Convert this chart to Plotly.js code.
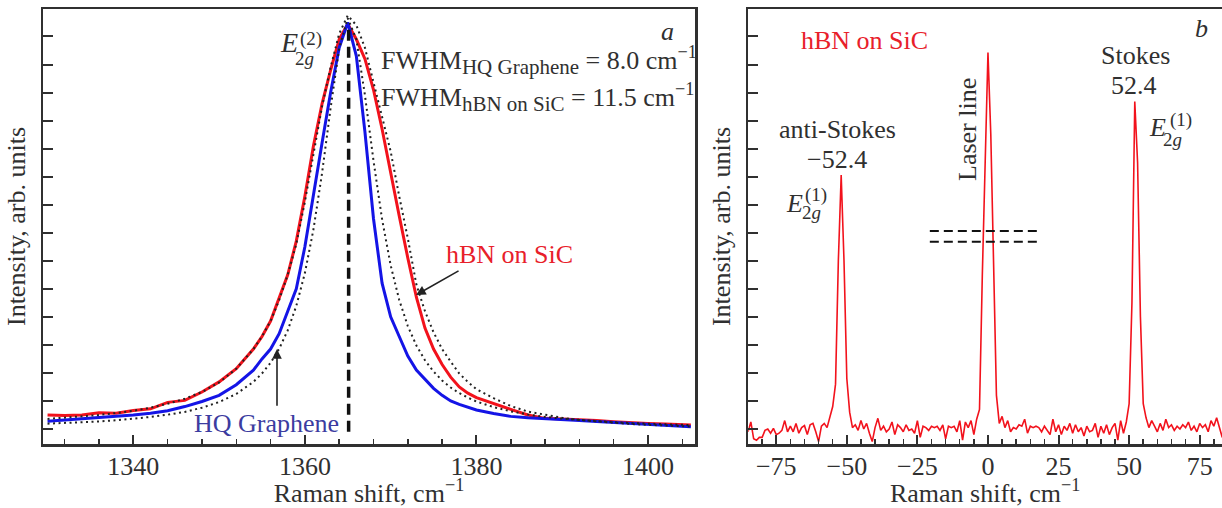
<!DOCTYPE html>
<html>
<head>
<meta charset="utf-8">
<script src="https://cdn.plot.ly/plotly-3.0.1.min.js"></script>
<style>html,body{margin:0;padding:0;background:#fff;}#chart{width:1222px;height:508px;}</style>
</head>
<body>
<div id="chart"></div>
<script>
// ---------- panel a : E2g(2) line ----------
const shiftA = [1330,1332,1334,1336,1338,1340,1342,1344,1346,1348,1350,1352,1354,
  1355,1356,1357,1358,1359,1360,1361,1362,1363,1364,1365,1366,1367,1368,1369,1370,
  1371,1372,1373,1374,1375,1376,1377,1378,1379,1380,
  1382,1384,1386,1388,1390,1392,1394,1396,1398,1400,1402,1404,1405];
const hbnOnSiC = [0.50,0.48,0.50,0.58,0.56,0.66,0.72,0.95,1.02,1.32,1.68,2.15,2.85,
  3.30,3.85,4.70,5.50,6.70,8.30,10.1,11.6,12.8,13.9,14.45,13.9,13.2,12.1,10.7,9.1,
  7.6,6.1,4.7,3.6,2.85,2.3,1.85,1.5,1.28,1.12,
  0.9,0.7,0.5,0.38,0.36,0.34,0.30,0.26,0.22,0.20,0.18,0.15,0.14];
const hqGraphene = [0.28,0.32,0.36,0.40,0.45,0.50,0.56,0.65,0.80,0.98,1.2,1.58,2.1,
  2.5,2.85,3.4,4.2,5.0,6.5,8.4,10.2,12.0,13.6,14.5,13.3,10.6,7.5,5.2,4.0,
  3.3,2.6,2.1,1.78,1.45,1.2,1.0,0.88,0.77,0.68,
  0.55,0.45,0.40,0.36,0.32,0.30,0.27,0.24,0.20,0.17,0.14,0.11,0.08];
const fitHbn = [0.36,0.40,0.45,0.50,0.57,0.65,0.76,0.90,1.08,1.32,1.66,2.15,2.85,
  3.3,3.85,4.6,5.5,6.6,8.1,9.8,11.5,12.9,14.1,14.75,14.4,13.6,12.4,11.2,9.9,
  8.3,6.8,5.15,4.2,3.45,2.85,2.4,1.98,1.68,1.42,
  1.1,0.82,0.62,0.50,0.40,0.32,0.27,0.22,0.18,0.15,0.12,0.10,0.09];
const fitHq = [0.19,0.21,0.24,0.27,0.31,0.36,0.43,0.51,0.61,0.76,0.96,1.25,1.68,
  1.98,2.36,2.86,3.52,4.39,5.56,7.12,9.12,11.45,13.57,14.65,13.9,11.91,9.57,7.48,5.84,
  4.6,3.67,2.98,2.45,2.05,1.73,1.48,1.28,1.12,0.98,
  0.78,0.63,0.52,0.43,0.37,0.32,0.27,0.24,0.21,0.19,0.17,0.15,0.14];
const peakMarkerX = [1365.1, 1365.1];
const peakMarkerY = [-0.1, 14.3];

// ---------- panel b : low-frequency spectrum ----------
const shiftB = [-85,-84,-83,-82,-81,-80,-79,-78,-77,-76,
  -75,-74,-73,-72,-71,-70,-69,-68,-67,-66,
  -65,-64,-63,-62,-61,-60,-59,-58,-57,-56,
  -55,-54,-53,-52,-51,-50,-49,-48,-47,-46,
  -45,-44,-43,-42,-41,-40,-39,-38,-37,-36,
  -35,-34,-33,-32,-31,-30,-29,-28,-27,-26,
  -25,-24,-23,-22,-21,-20,-19,-18,-17,-16,
  -15,-14,-13,-12,-11,-10,-9,-8,-7,-6,
  -5,-4,-3,-2,-1,0,1,2,3,4,
  5,6,7,8,9,10,11,12,13,14,
  15,16,17,18,19,20,21,22,23,24,
  25,26,27,28,29,30,31,32,33,34,
  35,36,37,38,39,40,41,42,43,44,
  45,46,47,48,49,50,51,52,53,54,
  55,56,57,58,59,60,61,62,63,64,
  65,66,67,68,69,70,71,72,73,74,
  75,76,77,78,79,80,81,82,83];
const intensityB = [-0.1,0.25,-0.35,-0.4,-0.3,-0.3,-0.05,0.0,-0.15,0.02,
  -0.2,-0.15,-0.05,0.3,-0.1,0.1,-0.1,0.2,-0.15,0.05,
  0.12,-0.2,0.15,0.2,-0.1,-0.45,0.1,0.2,0.05,0.45,
  0.8,1.6,6.0,9.06,6.0,1.8,0.6,0.05,0.15,-0.05,
  0.3,0.0,0.2,-0.15,-0.45,0.05,0.38,-0.05,0.1,-0.1,
  0.0,0.25,-0.2,0.15,0.05,-0.1,0.15,-0.05,0.0,-0.15,
  0.3,-0.3,0.1,0.05,-0.05,0.1,0.05,0.1,-0.05,0.15,
  -0.35,0.1,0.05,0.1,-0.1,0.3,-0.4,0.25,0.05,0.3,
  -0.2,0.35,0.7,5.5,10.0,13.43,10.5,5.8,1.2,0.2,
  0.45,0.05,0.3,-0.1,0.05,0.0,0.15,0.1,0.35,-0.15,
  0.1,0.05,0.1,0.05,-0.1,0.1,-0.05,-0.2,0.35,-0.1,
  0.15,-0.2,0.1,-0.05,0.2,-0.15,0.15,-0.1,0.05,-0.25,
  0.1,-0.1,-0.05,0.2,-0.3,0.1,-0.15,0.15,-0.2,0.05,
  0.2,-0.4,0.3,-0.15,0.25,0.9,4.5,11.68,9.5,4.0,
  0.9,0.4,0.05,0.3,0.1,-0.1,0.2,-0.05,0.35,0.05,
  0.15,-0.05,0.1,0.0,0.15,0.05,0.25,-0.05,0.1,-0.1,
  0.2,0.05,0.15,-0.1,0.3,0.1,0.4,0.05,-0.3];
const breakX = [-20.6, 18.4];
const breakY = [7.06, 6.68];

// ---------- styles ----------
const FONT = 'Liberation Serif, Times New Roman, serif';
const INK = '#303030';
const RED = '#f2121c';
const BLUE = '#1414e6';

const traces = [
  {x: shiftA, y: hbnOnSiC, mode: 'lines', line: {color: RED, width: 3}, xaxis: 'x', yaxis: 'y'},
  {x: shiftA, y: hqGraphene, mode: 'lines', line: {color: BLUE, width: 3}, xaxis: 'x', yaxis: 'y'},
  {x: shiftA, y: fitHbn, mode: 'lines', line: {color: '#222', width: 2, dash: '2px,3.5px'}, xaxis: 'x', yaxis: 'y'},
  {x: shiftA, y: fitHq, mode: 'lines', line: {color: '#222', width: 2, dash: '2px,3.5px'}, xaxis: 'x', yaxis: 'y'},
  {x: peakMarkerX, y: peakMarkerY, mode: 'lines', line: {color: '#111', width: 3.5, dash: '11px,6px'}, xaxis: 'x', yaxis: 'y'},
  {x: shiftB, y: intensityB, mode: 'lines', line: {color: RED, width: 1.6}, xaxis: 'x2', yaxis: 'y2'},
  {x: breakX, y: [breakY[0], breakY[0]], mode: 'lines', line: {color: '#111', width: 2, dash: '9px,5px'}, xaxis: 'x2', yaxis: 'y2'},
  {x: breakX, y: [breakY[1], breakY[1]], mode: 'lines', line: {color: '#111', width: 2, dash: '9px,5px'}, xaxis: 'x2', yaxis: 'y2'}
];

const tickfont = {family: FONT, size: 26, color: INK};
const titlefont = {family: FONT, size: 26, color: INK};

function xax(domain, range, dtick, minor, mirror) {
  return {domain: domain, range: range, dtick: dtick, tick0: 0, ticks: 'inside', ticklen: 9, tickwidth: 2,
    tickcolor: INK, minor: {dtick: minor, ticks: 'inside', ticklen: 5, tickwidth: 1.5, tickcolor: INK},
    showline: true, linewidth: 2.5, linecolor: INK, mirror: mirror, showgrid: false, zeroline: false,
    tickfont: tickfont, ticklabelstandoff: -3,
    title: {text: 'Raman shift, cm<sup>−1</sup>', font: titlefont, standoff: 6}};
}
function yax(anchor, mirror) {
  return {domain: [0, 1], range: [-0.535, 14.98], dtick: 1, tick0: 0, ticks: 'inside', ticklen: 10, tickwidth: 2,
    tickcolor: INK, showticklabels: false, showline: true, linewidth: 2.5, linecolor: INK, mirror: mirror,
    showgrid: false, zeroline: false, anchor: anchor,
    title: {text: 'Intensity, arb. units', font: titlefont, standoff: 8}};
}

function label(text, x, y, ref, extra) {
  const a = {text: text, x: x, y: y, xref: ref[0], yref: ref[1], showarrow: false,
    xanchor: 'center', yanchor: 'middle', font: {family: FONT, size: 26, color: INK}};
  return Object.assign(a, extra || {});
}
const A = ['x', 'y'], B = ['x2', 'y2'];
const SUB = '<span style="font-size:21px">';

const annotations = [
  // panel a
  label('<i>E</i>', 1358.15, 13.77, A, {font: {family: FONT, size: 28, color: INK}}),
  label('(2)', 1360.7, 13.91, A, {font: {family: FONT, size: 19, color: INK}}),
  label('2<i>g</i>', 1359.9, 13.2, A, {font: {family: FONT, size: 19, color: INK}}),
  label('FWHM<sub>' + SUB + 'HQ Graphene</span></sub> = 8.0 cm<sup>−1</sup>', 1368.65, 13.15, A, {xanchor: 'left'}),
  label('FWHM<sub>' + SUB + 'hBN on SiC</span></sub> = 11.5 cm<sup>−1</sup>', 1368.65, 11.84, A, {xanchor: 'left'}),
  label('<i>a</i>', 1402.3, 14.16, A),
  label('hBN on SiC', 1383.8, 6.21, A, {font: {family: FONT, size: 26, color: '#e8202a'}}),
  {x: 1372.96, y: 4.78, xref: 'x', yref: 'y', ax: 1378.09, ay: 5.67, axref: 'x', ayref: 'y',
    showarrow: true, arrowhead: 2, arrowsize: 1.2, arrowwidth: 1.6, arrowcolor: '#222', text: ''},
  label('HQ Graphene', 1355.56, 0.21, A, {font: {family: FONT, size: 26, color: '#3c3ca0'}}),
  {x: 1356.75, y: 2.85, xref: 'x', yref: 'y', ax: 1356.75, ay: 0.78, axref: 'x', ayref: 'y',
    showarrow: true, arrowhead: 2, arrowsize: 1.2, arrowwidth: 1.6, arrowcolor: '#222', text: ''},
  // panel b
  label('hBN on SiC', -43.9, 13.84, B, {font: {family: FONT, size: 26, color: '#e8202a'}}),
  label('<i>b</i>', 75.8, 14.27, B),
  label('Stokes', 52.1, 13.31, B),
  label('52.4', 51.7, 12.24, B),
  label('<i>E</i>', 60.2, 10.74, B, {font: {family: FONT, size: 26, color: INK}}),
  label('(1)', 68.4, 11.02, B, {font: {family: FONT, size: 19, color: INK}}),
  label('2<i>g</i>', 65.2, 10.31, B, {font: {family: FONT, size: 19, color: INK}}),
  label('anti-Stokes', -53.2, 10.7, B),
  label('−52.4', -53.5, 9.6, B),
  label('<i>E</i>', -68.4, 8.03, B, {font: {family: FONT, size: 26, color: INK}}),
  label('(1)', -60.9, 8.35, B, {font: {family: FONT, size: 19, color: INK}}),
  label('2<i>g</i>', -62.4, 7.71, B, {font: {family: FONT, size: 19, color: INK}}),
  label('Laser line', -7.44, 10.7, B, {textangle: -90})
];

const layout = {
  width: 1222, height: 508,
  margin: {l: 0, r: 0, t: 9, b: 64},
  paper_bgcolor: '#fff', plot_bgcolor: '#fff',
  showlegend: false,
  font: {family: FONT, color: INK},
  xaxis: xax([43/1222, 695/1222], [1329.47, 1405.48], 20, 4, true),
  yaxis: yax('x', true),
  xaxis2: Object.assign(xax([748.3/1222, 1], [-84.9, 82.9], 25, 5, true), {anchor: 'y2'}),
  yaxis2: yax('x2', false),
  annotations: annotations
};
layout.xaxis.anchor = 'y';

Plotly.newPlot('chart', traces, layout, {displayModeBar: false, staticPlot: true});
</script>
</body>
</html>
